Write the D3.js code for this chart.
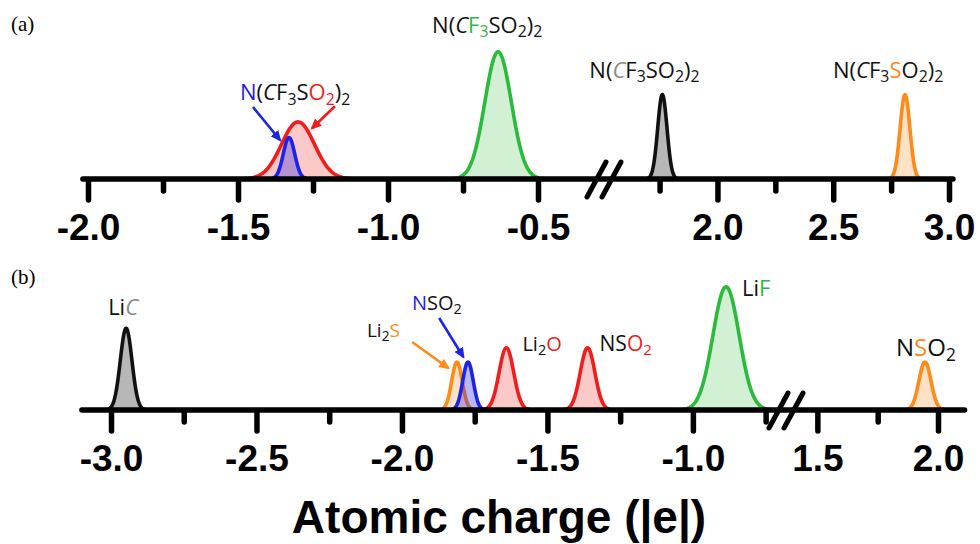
<!DOCTYPE html>
<html>
<head>
<meta charset="utf-8">
<script src="https://cdn.jsdelivr.net/npm/d3@7"></script>
<style>
body { margin: 0; background: #fff; }
</style>
</head>
<body>
<svg id="chart" width="980" height="544"></svg>
<script>
// ---- data, panel (a) ----
var centersA = [-1.30, -1.33, -0.633, 1.762, 2.81];
var heightsA = [0.44, 0.32, 0.98, 0.65, 0.65];
var widthsA  = [0.055, 0.019, 0.044, 0.020, 0.021];
var majorA = [-2.0, -1.5, -1.0, -0.5, 2.0, 2.5, 3.0];
var minorA = [-1.75, -1.25, -0.75, 1.75, 2.25, 2.75];

// ---- data, panel (b) ----
var namesB   = ["LiC", "Li2S", "NSO2 (N)", "Li2O", "NSO2 (O)", "LiF", "NSO2 (S)"];
var centersB = [-2.948, -1.811, -1.773, -1.641, -1.362, -0.886, 1.946];
var heightsB = [0.63, 0.37, 0.37, 0.48, 0.48, 0.95, 0.37];
var widthsB  = [0.020, 0.018, 0.018, 0.025, 0.025, 0.045, 0.025];
var majorB = [-3.0, -2.5, -2.0, -1.5, -1.0, 1.5, 2.0];
var minorB = [-2.75, -2.25, -1.75, -1.25, -0.75, 1.75];

var axisTitle = "Atomic charge (|e|)";

// label text: [text, colour, kind]
var labelsA = [
  [["N","blue"],["("],["C","","it"],["F"],["3","","sub"],["S"],["O","red"],["2","red","sub"],[")"],["2","","sub"]],
  [["N("],["C","","it"],["F","green"],["3","green","sub"],["SO"],["2","","sub"],[")"],["2","","sub"]],
  [["N("],["C","gray","it"],["F"],["3","","sub"],["SO"],["2","","sub"],[")"],["2","","sub"]],
  [["N("],["C","","it"],["F"],["3","","sub"],["S","orange"],["O"],["2","","sub"],[")"],["2","","sub"]]
];
var labelsB = [
  [["Li"],["C","gray","it"]],
  [["Li"],["2","","sub"],["S","orange"]],
  [["N","blue"],["SO"],["2","","sub"]],
  [["Li"],["2","","sub"],["O","red"]],
  [["NS"],["O","red"],["2","red","sub"]],
  [["Li"],["F","green"]],
  [["N"],["S","orange"],["O"],["2","","sub"]]
];

// ---- style ----
var colors = {
  red: "#f21c1c", blue: "#1c22e8", green: "#2cba3c", orange: "#ff8a1a",
  black: "#111111", gray: "#8a8a8a"
};
var peakColA = ["red", "blue", "green", "black", "orange"];
var peakColB = ["black", "orange", "blue", "red", "red", "green", "orange"];
var fillOp = { red: 0.24, blue: 0.32, green: 0.22, black: 0.3, orange: 0.25 };
var labelFont = "'Open Sans', 'DejaVu Sans', sans-serif";

var svg = d3.select("#chart");
var defs = svg.append("defs");
["blue", "red", "orange"].forEach(function(c) {
  defs.append("marker")
    .attr("id", "arr-" + c)
    .attr("viewBox", "0 0 10 10")
    .attr("refX", 8).attr("refY", 5)
    .attr("markerWidth", 11).attr("markerHeight", 11)
    .attr("markerUnits", "userSpaceOnUse")
    .attr("orient", "auto")
    .append("path").attr("d", "M0,0.5 L10,5 L0,9.5 z").attr("fill", colors[c]);
});

function gauss(c, h, w) {
  return d3.range(-4, 4.001, 0.1).map(function(k) {
    return { x: c + k * w, y: h * Math.exp(-k * k / 2) };
  });
}

function drawLabel(g, segs, x, y, size) {
  var t = g.append("text").attr("x", x).attr("y", y)
    .attr("font-family", labelFont).attr("font-size", size);
  var inSub = false;
  segs.forEach(function(s) {
    var sp = t.append("tspan").text(s[0]).attr("fill", colors[s[1]] || "#111");
    if (s[2] === "sub") {
      sp.attr("font-size", size * 0.72);
      if (!inSub) sp.attr("dy", size * 0.22);
      inSub = true;
    } else {
      if (inSub) sp.attr("dy", -size * 0.22);
      inSub = false;
      if (s[2] === "it") sp.attr("font-style", "italic");
    }
  });
}

function panel(cfg) {
  var g = svg.append("g");
  var xs = d3.scaleLinear().domain(cfg.domain).range(cfg.range);
  var ys = d3.scaleLinear().domain([0, 1]).range([cfg.axisY, cfg.axisY - 130]);

  var area = d3.area().x(function(d) { return xs(d.x); })
    .y0(cfg.axisY).y1(function(d) { return ys(d.y); }).curve(d3.curveBasis);
  var line = d3.line().x(function(d) { return xs(d.x); })
    .y(function(d) { return ys(d.y); }).curve(d3.curveBasis);

  var peaks = cfg.centers.map(function(c, i) {
    return { pts: gauss(c, cfg.heights[i], cfg.widths[i]), col: cfg.cols[i], c: c, h: cfg.heights[i] };
  });
  var pg = g.selectAll("g.peak").data(peaks).join("g").attr("class", "peak");
  pg.append("path").attr("d", function(d) { return area(d.pts); })
    .attr("fill", function(d) { return colors[d.col]; })
    .attr("fill-opacity", function(d) { return fillOp[d.col]; });
  pg.append("path").attr("d", function(d) { return line(d.pts); })
    .attr("fill", "none").attr("stroke", function(d) { return colors[d.col]; })
    .attr("stroke-width", 3.6).attr("stroke-linejoin", "round");

  // axis line
  g.append("line")
    .attr("x1", xs(cfg.extent[0])).attr("x2", xs(cfg.extent[1]))
    .attr("y1", cfg.axisY).attr("y2", cfg.axisY)
    .attr("stroke", "#000").attr("stroke-width", 5.5).attr("stroke-linecap", "round");

  var major = g.append("g").attr("transform", "translate(0," + cfg.axisY + ")")
    .call(d3.axisBottom(xs).tickValues(cfg.major).tickSize(21)
      .tickFormat(function(d) { return d.toFixed(1); }));
  var minor = g.append("g").attr("transform", "translate(0," + cfg.axisY + ")")
    .call(d3.axisBottom(xs).tickValues(cfg.minor).tickSize(12).tickFormat(""));
  [major, minor].forEach(function(a) {
    a.select(".domain").remove();
    a.selectAll(".tick line").attr("stroke", "#000").attr("stroke-width", 5.5)
      .attr("stroke-linecap", "round").attr("y1", 2);
  });
  major.selectAll(".tick text")
    .attr("y", 61).attr("dy", 0)
    .attr("font-family", "'Liberation Sans', Arial, sans-serif")
    .attr("font-weight", "bold").attr("font-size", 37).attr("fill", "#000");

  // axis break
  var bx = xs(cfg.breakAt);
  [-8, 7].forEach(function(off) {
    g.append("line")
      .attr("x1", bx + off - 9).attr("y1", cfg.axisY + 18)
      .attr("x2", bx + off + 10).attr("y2", cfg.axisY - 17)
      .attr("stroke", "#000").attr("stroke-width", 5).attr("stroke-linecap", "round");
  });

  // labels
  cfg.labels.forEach(function(segs, i) {
    var p = peaks[cfg.labelPeak[i]];
    var o = cfg.labelOff[i];
    drawLabel(g, segs, xs(p.c) + o[0], ys(p.h) + o[1], o[2]);
  });

  // arrows
  cfg.arrows.forEach(function(a) {
    g.append("line")
      .attr("x1", xs(a[0])).attr("y1", ys(a[1]))
      .attr("x2", xs(a[2])).attr("y2", ys(a[3]))
      .attr("stroke", colors[a[4]]).attr("stroke-width", 2.6)
      .attr("marker-end", "url(#arr-" + a[4] + ")");
  });

  g.append("text").attr("x", 11).attr("y", cfg.tagY)
    .attr("font-family", "'Liberation Serif', 'Times New Roman', serif")
    .attr("font-size", 21).attr("fill", "#000").text(cfg.tag);
}

panel({
  tag: "(a)", tagY: 31, axisY: 179,
  domain: [-2.0, -0.28, 1.51, 3.0], range: [88, 604, 604, 949],
  extent: [-2.017, 3.017], breakAt: -0.28,
  centers: centersA, heights: heightsA, widths: widthsA, cols: peakColA,
  major: majorA, minor: minorA,
  labels: labelsA, labelPeak: [0, 2, 3, 4],
  labelOff: [[-58, -22, 22], [-66, -19, 22], [-73, -17, 22], [-72, -17, 22]],
  arrows: [[-1.45, 0.554, -1.36, 0.30, "blue"], [-1.177, 0.56, -1.253, 0.39, "red"]]
});

panel({
  tag: "(b)", tagY: 284, axisY: 410,
  domain: [-3.0, -0.68, 1.37, 2.0], range: [111, 786, 786, 938],
  extent: [-3.1, 2.11], breakAt: -0.68,
  centers: centersB, heights: heightsB, widths: widthsB, cols: peakColB,
  major: majorB, minor: minorB,
  labels: labelsB, labelPeak: [0, 1, 2, 3, 4, 5, 6],
  labelOff: [[-18, -13, 22], [-90, -25, 19], [-56, -52, 20], [16, 3, 20], [12, 3, 21], [16, 9, 22], [-29, -6, 24]],
  arrows: [[-1.965, 0.523, -1.841, 0.323, "orange"], [-1.872, 0.708, -1.789, 0.408, "blue"]]
});

svg.append("text").attr("x", 499).attr("y", 533)
  .attr("text-anchor", "middle")
  .attr("font-family", "'Liberation Sans', Arial, sans-serif")
  .attr("font-weight", "bold").attr("font-size", 46).attr("fill", "#000")
  .text(axisTitle);
</script>
</body>
</html>
